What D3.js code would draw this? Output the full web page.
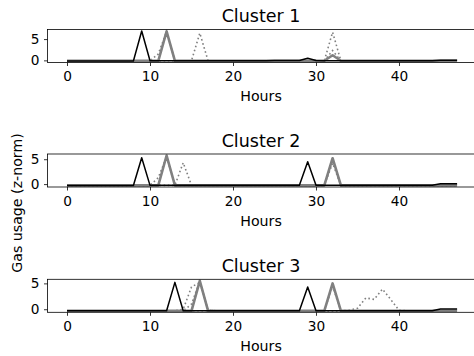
<!DOCTYPE html>
<html><head><meta charset="utf-8">
<script src="https://cdn.jsdelivr.net/npm/d3@7"></script>
<style>body{margin:0;background:#fff}svg{display:block}text{font-family:"DejaVu Sans",sans-serif}</style>
</head><body><svg id="c" width="474" height="356"></svg>
<script>
const hours = d3.range(0, 48);
const titles = ["Cluster 1", "Cluster 2", "Cluster 3"];
const xTicks = [0, 10, 20, 30, 40];
const yTicks = [0, 5];

// Cluster 1
const c1Black = [-0.15,-0.15,-0.15,-0.15,-0.15,-0.15,-0.15,-0.15,-0.15,6.9,-0.1,-0.1,-0.1,-0.1,-0.1,-0.1,-0.1,-0.1,-0.1,-0.1,-0.1,-0.1,-0.1,-0.1,-0.1,-0.05,-0.05,-0.05,-0.05,0.5,-0.05,-0.1,-0.1,-0.1,-0.1,-0.1,-0.1,-0.1,-0.1,-0.1,-0.1,-0.1,-0.1,-0.1,-0.1,0.0,0.0,0.0];
const c1Gray = [-0.1,-0.1,-0.1,-0.1,-0.1,-0.1,-0.1,-0.1,-0.1,-0.1,-0.1,-0.1,6.8,-0.1,-0.1,-0.1,-0.1,-0.1,-0.1,-0.1,-0.1,-0.1,-0.1,-0.1,-0.1,-0.1,-0.1,-0.1,-0.1,-0.1,-0.1,-0.1,1.2,-0.1,-0.1,-0.1,-0.1,-0.1,-0.1,-0.1,-0.1,-0.1,-0.1,-0.1,-0.1,-0.1,-0.1,-0.1];
const c1DotA = [-0.1,-0.1,-0.1,-0.1,-0.1,-0.1,-0.1,-0.1,-0.1,-0.1,-0.1,1.5,6.8,-0.1,-0.1,-0.1,-0.1,-0.1,-0.1,-0.1,-0.1,-0.1,-0.1,-0.1,-0.1,-0.1,-0.1,-0.1,-0.1,-0.1,-0.1,-0.1,6.6,-0.1,-0.1,-0.1,-0.1,-0.1,-0.1,-0.1,-0.1,-0.1,-0.1,-0.1,-0.1,-0.1,-0.1,-0.1];
const c1DotB = [-0.1,-0.1,-0.1,-0.1,-0.1,-0.1,-0.1,-0.1,-0.1,-0.1,-0.1,-0.1,-0.1,-0.1,-0.1,-0.1,6.4,-0.1,-0.1,-0.1,-0.1,-0.1,-0.1,-0.1,-0.1,-0.1,-0.1,-0.1,-0.1,-0.1,-0.1,-0.1,2.3,-0.1,-0.1,-0.1,-0.1,-0.1,-0.1,-0.1,-0.1,-0.1,-0.1,-0.1,-0.1,-0.1,-0.1,-0.1];

// Cluster 2
const c2Black = [-0.28,-0.28,-0.28,-0.28,-0.28,-0.28,-0.28,-0.28,-0.28,5.3,-0.25,-0.25,-0.25,-0.25,-0.25,-0.25,-0.25,-0.25,-0.25,-0.25,-0.25,-0.25,-0.25,-0.25,-0.25,-0.25,-0.25,-0.25,-0.25,4.5,-0.25,-0.25,-0.25,-0.25,-0.25,-0.25,-0.25,-0.25,-0.25,-0.25,-0.25,-0.25,-0.25,-0.25,-0.25,0.05,0.05,0.05];
const c2Gray = [-0.25,-0.25,-0.25,-0.25,-0.25,-0.25,-0.25,-0.25,-0.25,-0.25,-0.25,-0.25,5.75,-0.25,-0.25,-0.25,-0.25,-0.25,-0.25,-0.25,-0.25,-0.25,-0.25,-0.25,-0.25,-0.25,-0.25,-0.25,-0.25,-0.25,-0.25,-0.25,5.2,-0.25,-0.25,-0.25,-0.25,-0.25,-0.25,-0.25,-0.25,-0.25,-0.25,-0.25,-0.25,-0.25,-0.25,-0.25];
const c2DotA = [-0.25,-0.25,-0.25,-0.25,-0.25,-0.25,-0.25,-0.25,-0.25,-0.25,-0.25,1.3,5.5,-0.25,-0.25,-0.25,-0.25,-0.25,-0.25,-0.25,-0.25,-0.25,-0.25,-0.25,-0.25,-0.25,-0.25,-0.25,-0.25,-0.25,-0.25,-0.25,4.8,-0.25,-0.25,-0.25,-0.25,-0.25,-0.25,-0.25,-0.25,-0.25,-0.25,-0.25,-0.25,-0.25,-0.25,-0.25];
const c2DotB = [-0.25,-0.25,-0.25,-0.25,-0.25,-0.25,-0.25,-0.25,-0.25,-0.25,-0.25,-0.25,-0.25,-0.25,4.3,-0.25,-0.25,-0.25,-0.25,-0.25,-0.25,-0.25,-0.25,-0.25,-0.25,-0.25,-0.25,-0.25,-0.25,-0.25,-0.25,-0.25,4.2,-0.25,-0.25,-0.25,-0.25,-0.25,-0.25,-0.25,-0.25,-0.25,-0.25,-0.25,-0.25,-0.25,-0.25,-0.25];

// Cluster 3
const c3Black = [-0.3,-0.3,-0.3,-0.3,-0.3,-0.3,-0.3,-0.3,-0.3,-0.3,-0.3,-0.3,-0.3,5.2,-0.3,-0.3,-0.3,-0.3,-0.3,-0.3,-0.3,-0.3,-0.3,-0.3,-0.3,-0.3,-0.3,-0.3,-0.3,4.3,-0.3,-0.3,-0.3,-0.3,-0.3,-0.3,-0.3,-0.3,-0.3,-0.3,-0.3,-0.3,-0.3,-0.3,-0.3,0.05,0.05,0.05];
const c3Gray = [-0.3,-0.3,-0.3,-0.3,-0.3,-0.3,-0.3,-0.3,-0.3,-0.3,-0.3,-0.3,-0.3,-0.3,-0.3,-0.3,5.5,-0.3,-0.3,-0.3,-0.3,-0.3,-0.3,-0.3,-0.3,-0.3,-0.3,-0.3,-0.3,-0.3,-0.3,-0.3,5.0,-0.3,-0.3,-0.3,-0.3,-0.3,-0.3,-0.3,-0.3,-0.3,-0.3,-0.3,-0.3,-0.3,-0.3,-0.3];
const c3DotA = [-0.3,-0.3,-0.3,-0.3,-0.3,-0.3,-0.3,-0.3,-0.3,-0.3,-0.3,-0.3,-0.3,-0.3,0.0,4.3,5.2,-0.2,-0.3,-0.3,-0.3,-0.3,-0.3,-0.3,-0.3,-0.3,-0.3,-0.3,-0.3,-0.3,-0.3,-0.3,-0.3,-0.3,-0.3,-0.3,-0.3,-0.3,-0.3,-0.3,-0.3,-0.3,-0.3,-0.3,-0.3,-0.3,-0.3,-0.3];
const c3DotB = [-0.3,-0.3,-0.3,-0.3,-0.3,-0.3,-0.3,-0.3,-0.3,-0.3,-0.3,-0.3,-0.3,-0.3,-0.3,1.0,5.4,-0.2,-0.3,-0.3,-0.3,-0.3,-0.3,-0.3,-0.3,-0.3,-0.3,-0.3,-0.3,-0.3,-0.3,-0.3,4.5,-0.3,-0.3,-0.3,-0.3,-0.3,-0.3,-0.3,-0.3,-0.3,-0.3,-0.3,-0.3,-0.3,-0.3,-0.3];
const c3DotC = [-0.3,-0.3,-0.3,-0.3,-0.3,-0.3,-0.3,-0.3,-0.3,-0.3,-0.3,-0.3,-0.3,-0.3,-0.3,-0.3,-0.3,-0.3,-0.3,-0.3,-0.3,-0.3,-0.3,-0.3,-0.3,-0.3,-0.3,-0.3,-0.3,-0.3,-0.3,-0.3,-0.3,-0.3,-0.2,0.2,2.2,1.9,3.9,1.9,-0.2,-0.3,-0.3,-0.3,-0.3,-0.3,-0.3,-0.3];

const panels = [
  {title: titles[0], dotted: [c1DotA, c1DotB], gray: [c1Gray], black: [c1Black]},
  {title: titles[1], dotted: [c2DotA, c2DotB], gray: [c2Gray], black: [c2Black]},
  {title: titles[2], dotted: [c3DotA, c3DotB, c3DotC], gray: [c3Gray], black: [c3Black]}
];

const svg = d3.select("#c");
const L = 47.5, R = 476.6, H = 33;
const tops = [29.5, 154, 279.3];
const x = d3.scaleLinear().domain([-2.35, 49.35]).range([L, R]);

panels.forEach((p, i) => {
  const top = tops[i], bot = top + H;
  const all = [].concat(...p.dotted, ...p.gray, ...p.black);
  const [mn, mx] = d3.extent(all);
  const pad = (mx - mn) * 0.05;
  const y = d3.scaleLinear().domain([mn - pad, mx + pad]).range([bot, top]);
  const g = svg.append("g");
  const clipId = "clip" + i;
  svg.append("clipPath").attr("id", clipId).append("rect")
    .attr("x", L).attr("y", top).attr("width", R - L).attr("height", H);
  const plot = g.append("g").attr("clip-path", `url(#${clipId})`);
  const line = d3.line().x((d, k) => x(hours[k])).y(d => y(d));
  p.dotted.forEach(s => plot.append("path").attr("d", line(s)).attr("fill", "none")
    .attr("stroke", "#808080").attr("stroke-width", 1.6).attr("stroke-dasharray", "1.6,2.6"));
  p.gray.forEach(s => plot.append("path").attr("d", line(s)).attr("fill", "none")
    .attr("stroke", "#808080").attr("stroke-width", 2.6).attr("stroke-linejoin", "round"));
  p.black.forEach(s => plot.append("path").attr("d", line(s)).attr("fill", "none")
    .attr("stroke", "#000").attr("stroke-width", 1.5).attr("stroke-linejoin", "round"));

  // frame
  g.append("rect").attr("x", L).attr("y", top).attr("width", R - L).attr("height", H)
    .attr("fill", "none").attr("stroke", "#000").attr("stroke-width", 0.8);

  const xa = d3.axisBottom(x).tickValues(xTicks).tickSize(3.5).tickPadding(5.3).tickFormat(d3.format("d"));
  const xg = g.append("g").attr("transform", `translate(0,${bot})`).call(xa);
  const ya = d3.axisLeft(y).tickValues(yTicks).tickSize(3.5).tickPadding(4.5).tickFormat(d3.format("d"));
  const yg = g.append("g").attr("transform", `translate(${L},0)`).call(ya);
  [xg, yg].forEach(a => {
    a.select(".domain").remove();
    a.selectAll("line").attr("stroke", "#000").attr("stroke-width", 0.8);
    a.selectAll("text").attr("font-size", 13.7).attr("fill", "#000").attr("font-family", "DejaVu Sans");
  });
  g.append("text").attr("x", (L + R) / 2 - 1).attr("y", top - 7.3).attr("text-anchor", "middle")
    .attr("font-size", 17.5).text(p.title);
  g.append("text").attr("x", (L + R) / 2 - 1).attr("y", bot + 38.5).attr("text-anchor", "middle")
    .attr("font-size", 14.2).text("Hours");
});

svg.append("text").attr("transform", "translate(22,203) rotate(-90)").attr("text-anchor", "middle")
  .attr("font-size", 14.2).text("Gas usage (z-norm)");
</script></body></html>
